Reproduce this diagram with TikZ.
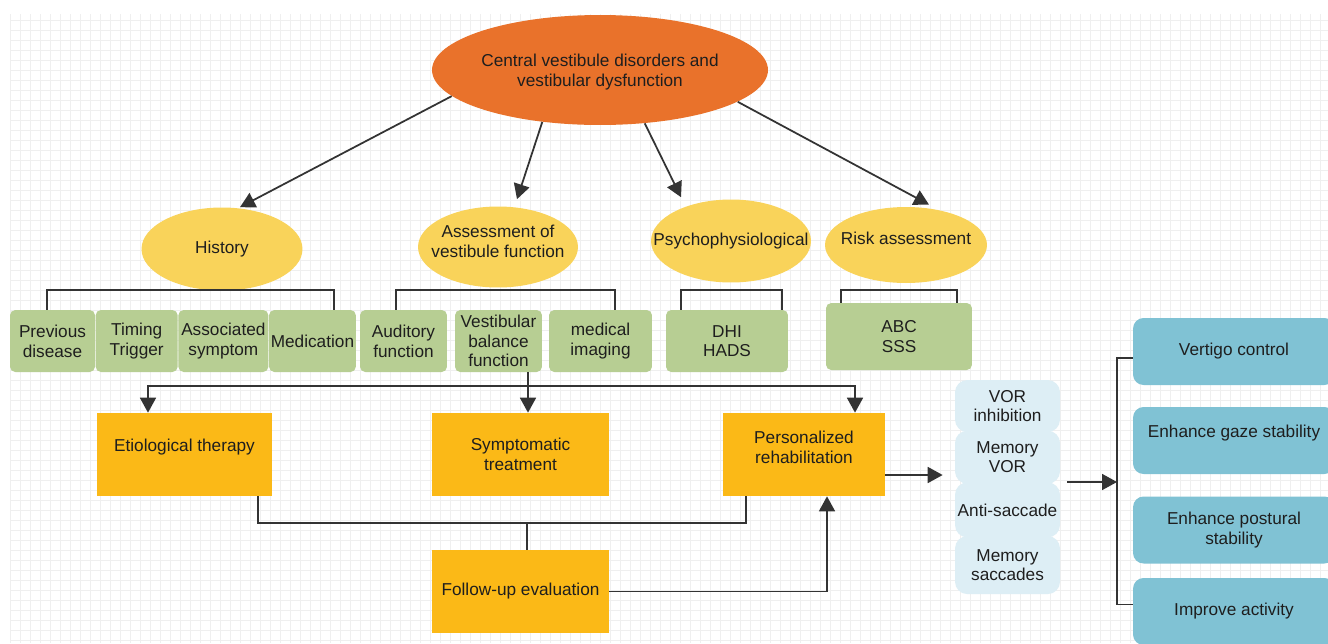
\documentclass[tikz,border=0pt]{standalone}
\usepackage{fontspec}
\setmainfont{Liberation Sans}
\usetikzlibrary{arrows.meta,positioning,shapes.geometric,calc}
\definecolor{ink}{HTML}{1E1E1E}
\definecolor{wire}{HTML}{333333}
\definecolor{gridc}{HTML}{EFEFEF}
\definecolor{rootbg}{HTML}{E9722B}
\definecolor{ovalbg}{HTML}{F9D35A}
\definecolor{itembg}{HTML}{B7CE93}
\definecolor{treatbg}{HTML}{FBB917}
\definecolor{drillbg}{HTML}{DDEEF5}
\definecolor{goalbg}{HTML}{80C2D4}

\begin{document}
\begin{tikzpicture}[x=0.02cm,y=-0.02cm,font=\fontsize{9.8}{11.2}\selectfont,text=ink,
  oval/.style={ellipse,fill=ovalbg,inner sep=0pt},
  item/.style={rectangle,rounded corners=3pt,fill=itembg,align=center,inner sep=1pt,
               minimum height=1.24cm},
  treat/.style={rectangle,fill=treatbg,align=center,inner sep=1pt,minimum width=3.5cm,
                minimum height=1.66cm},
  drill/.style={rectangle,rounded corners=7pt,fill=drillbg,align=center,inner sep=1pt,
                minimum width=2.1cm},
  goal/.style={rectangle,rounded corners=6pt,fill=goalbg,align=center,inner sep=1pt,
               minimum width=4.04cm,minimum height=1.34cm},
  gridline/.style={draw=gridc,line width=0.4pt},
  link/.style={draw=wire,line width=1pt},
  arr/.style={link,-{Triangle[length=0.3cm,width=0.32cm]}}]

  \useasboundingbox (0,0) rectangle (1328,643);
  \clip (0,0) rectangle (1328,643);
  \fill[white] (0,0) rectangle (1328,643);
  \foreach \gx in {10,20,...,1320} \draw[gridline] (\gx,14) -- (\gx,643);
  \foreach \gy in {20,30,...,640} \draw[gridline] (10,\gy) -- (1328,\gy);

  % diagnosis
  \node[oval,fill=rootbg,minimum width=6.72cm,minimum height=2.2cm,
        label={[align=center,yshift=-0.04cm]center:Central vestibule disorders and\\vestibular dysfunction}]
        (root) at (600,70) {};
  \node[oval,minimum width=3.22cm,minimum height=1.66cm,label=center:History] (hist) at (222,249) {};
  \node[oval,minimum width=3.2cm,minimum height=1.62cm,
        label={[align=center,yshift=0.11cm]center:Assessment of\\vestibule function}] (assess) at (498,247) {};
  \node[oval,minimum width=3.2cm,minimum height=1.66cm,label=center:Psychophysiological] (psych) at (731,241) {};
  \node[oval,minimum width=3.24cm,minimum height=1.52cm,
        label={[yshift=0.14cm]center:Risk assessment}] (risk) at (906,245) {};

  \node[item,minimum width=1.7cm] (prev) at (52.5,341) {Previous\\disease};
  \node[item,minimum width=1.64cm,right=0pt of prev] (timing) {Timing\\Trigger};
  \node[item,minimum width=1.8cm,right=0pt of timing] (assoc) {Associated\\symptom};
  \node[item,minimum width=1.7cm,right=0pt of assoc] (medic) {Medication};
  \node[item,minimum width=1.74cm] (audit) at (403.5,341) {Auditory\\function};
  \node[item,minimum width=1.74cm] (vest) at (498.5,341) {Vestibular\\balance\\function};
  \node[item,minimum width=2.06cm] (imag) at (600.5,341) {medical\\imaging};
  \node[item,minimum width=2.44cm] (dhi) at (727,341) {DHI\\HADS};
  \node[item,minimum width=2.92cm,minimum height=1.34cm] (abc) at (899,336.5) {ABC\\SSS};

  % treatment
  \node[treat,label={[yshift=0.14cm]center:Etiological therapy}] (etio) at (184.5,454.5) {};
  \node[treat,minimum width=3.54cm] (symp) at (520.5,454.5) {Symptomatic\\treatment};
  \node[treat,minimum width=3.24cm,
        label={[align=center,yshift=0.14cm]center:Personalized\\rehabilitation}] (pers) at (804,454.5) {};
  \node[treat,minimum width=3.54cm] (follow) at (520.5,591.5) {Follow-up evaluation};

  \node[drill,minimum height=1.04cm] (vori) at (1007.5,406) {VOR\\inhibition};
  \node[drill,minimum height=1.06cm,below=-0.04cm of vori] (memv) {Memory\\VOR};
  \node[drill,minimum height=1.1cm,below=-0.04cm of memv] (anti) {Anti-saccade};
  \node[drill,minimum height=1.16cm,below=-0.04cm of anti] (mems) {Memory\\saccades};

  \node[goal] (vert) at (1234,351.5) {Vertigo control};
  \node[goal,label={[yshift=0.14cm]center:Enhance gaze stability}] (gaze) at (1234,440.5) {};
  \node[goal] (post) at (1234,530) {Enhance postural\\stability};
  \node[goal] (impr) at (1234,611.5) {Improve activity};

  \draw[arr] (root.190) -- ([shift={(18,0)}]hist.north);
  \draw[arr] (root.222) -- ([shift={(19,-7)}]assess.north);
  \draw[arr] (root.310) -- ([shift={(-50,-2)}]psych.north);
  \draw[arr] (root.347) -- ([shift={(23,-2)}]risk.north);

  \draw[link] ([shift={(-5.5,0)}]prev.north) -- ++(0,-20) -| ([shift={(21.5,0)}]medic.north);
  \draw[link] ([shift={(-7.5,0)}]audit.north) -- ++(0,-20) -| ([shift={(14.5,0)}]imag.north);
  \draw[link] ([shift={(-46,0)}]dhi.north) -- ++(0,-20) -| ([shift={(55,0)}]dhi.north);
  \draw[link] ([shift={(-58,0)}]abc.north) -- ++(0,-13) -| ([shift={(58,0)}]abc.north);

  \coordinate (hub) at (528,386);
  \draw[link] (vest.south -| hub) -- (hub);
  \draw[arr] (hub) -| ([shift={(-36.5,0)}]etio.north);
  \draw[arr] (hub) -- (hub |- symp.north);
  \draw[arr] (hub) -| ([shift={(51,0)}]pers.north);

  \coordinate (merge) at (527,523);
  \draw[link] ([shift={(73.5,0)}]etio.south) |- (merge) -| ([shift={(-58,0)}]pers.south);
  \draw[link] (merge) -- (merge |- follow.north);
  \draw[arr] (follow.east) -| ([shift={(23,0)}]pers.south);

  \coordinate (pout) at ([shift={(0,20.5)}]pers.east);
  \draw[arr,shorten >=0.24cm] (pout) -- (pout -| memv.west);

  \coordinate (spine) at (1117,482);
  \draw[arr,shorten <=0.14cm] (spine -| memv.east) -- (spine);
  \draw[link] ([shift={(0,6.5)}]vert.west) -| (spine) |- ([shift={(0,-7)}]impr.west);
\end{tikzpicture}
\end{document}
